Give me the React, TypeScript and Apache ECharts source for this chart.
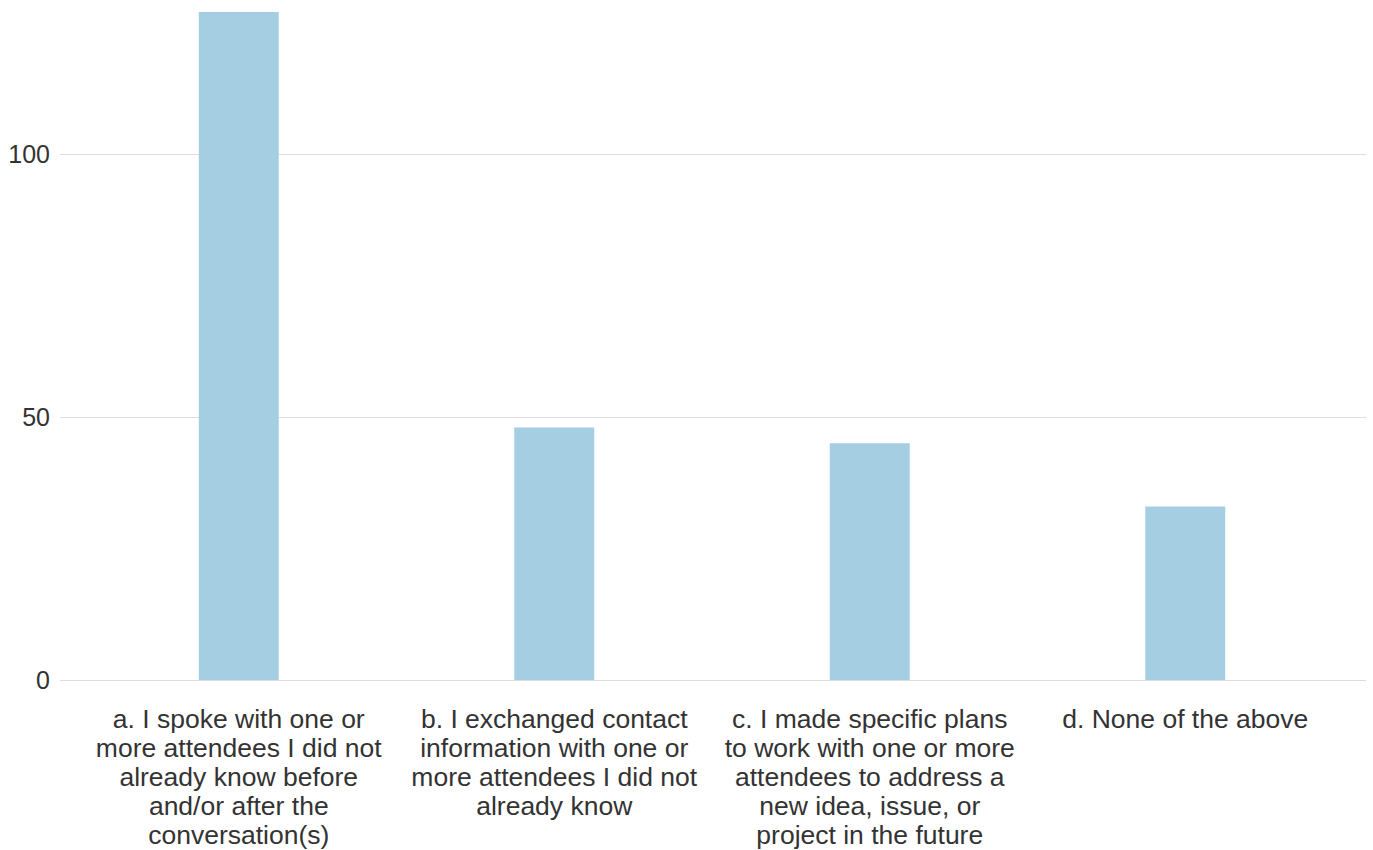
import React, { useEffect, useRef } from "react";
import * as echarts from "echarts";

const categories = [
  "a. I spoke with one or\nmore attendees I did not\nalready know before\nand/or after the\nconversation(s)",
  "b. I exchanged contact\ninformation with one or\nmore attendees I did not\nalready know",
  "c. I made specific plans\nto work with one or more\nattendees to address a\nnew idea, issue, or\nproject in the future",
  "d. None of the above",
];
const values = [127, 48, 45, 33];
const yMax = 127;
const yInterval = 50;

export default function App() {
  const ref = useRef<HTMLDivElement>(null);
  useEffect(() => {
    document.body.style.margin = "0";
    if (!ref.current) return;
    const chart = echarts.init(ref.current, undefined, { renderer: "svg" });
    const font = "Liberation Sans, Arial, sans-serif";
    chart.setOption({
      animation: false,
      textStyle: { fontFamily: font },
      grid: [
        { left: 60, right: 7, top: 12, bottom: 170 },
        { left: 81, right: 30, top: 12, bottom: 170 },
      ],
      xAxis: [
        { gridIndex: 0, type: "value", min: 0, max: 1, show: false },
        {
          gridIndex: 1,
          type: "category",
          data: categories,
          axisLine: { show: false },
          axisTick: { show: false },
          axisLabel: {
            interval: 0,
            fontSize: 26.5,
            lineHeight: 29,
            color: "#333",
            margin: 24,
            fontFamily: font,
          },
        },
      ],
      yAxis: [
        {
          gridIndex: 0,
          type: "value",
          min: 0,
          max: yMax,
          interval: yInterval,
          axisLine: { show: false },
          axisTick: { show: false },
          axisLabel: {
            fontSize: 25,
            color: "#333",
            margin: 10,
            showMaxLabel: false,
            fontFamily: font,
          },
          splitLine: {
            show: true,
            showMaxLine: false,
            lineStyle: { color: "#dddddd", width: 1 },
          },
        },
        {
          gridIndex: 1,
          type: "value",
          min: 0,
          max: yMax,
          show: false,
          splitLine: { show: false },
        },
      ],
      series: [
        {
          type: "bar",
          xAxisIndex: 1,
          yAxisIndex: 1,
          data: values,
          barWidth: 80,
          itemStyle: { color: "#a6cee3" },
        },
      ],
    });
    return () => chart.dispose();
  }, []);
  return <div ref={ref} style={{ width: 1373, height: 850 }} />;
}
